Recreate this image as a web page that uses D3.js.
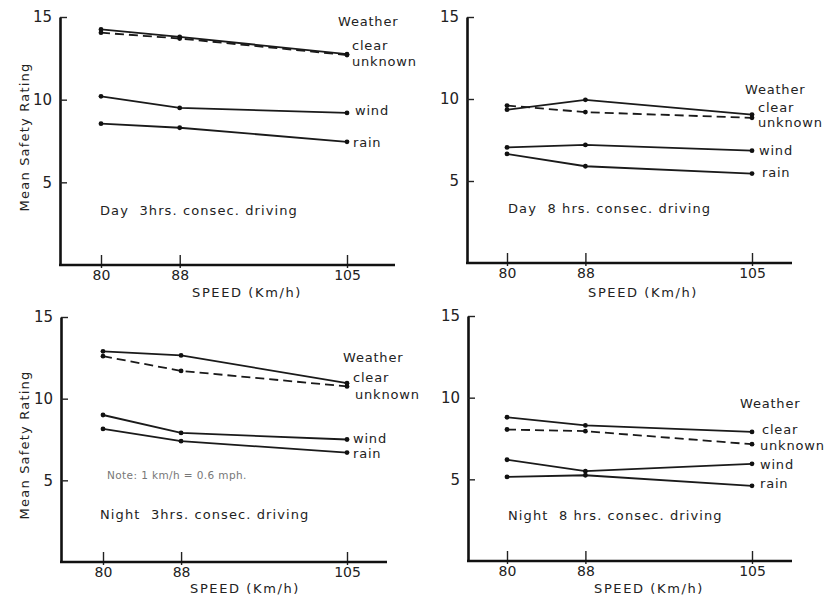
<!DOCTYPE html>
<meta charset="utf-8">
<script src="https://d3js.org/d3.v7.min.js"></script>
<style>
  body { margin: 0; background: #fff; }
  text { font-family: "DejaVu Sans", sans-serif; fill: #222; }
</style>
<div id="chart"></div>
<script>

// x values and y ticks
var speeds = [80, 88, 105];
var yTicks = [5, 10, 15];
var weather = ["clear", "unknown", "wind", "rain"];

// mean safety rating at 80 / 88 / 105 km/h, rows in weather order
var day3 = [
  [14.25, 13.8, 12.75],
  [14.05, 13.7, 12.7],
  [10.2, 9.5, 9.2],
  [8.55, 8.3, 7.45]
];
var day8 = [
  [9.35, 9.95, 9.05],
  [9.6, 9.2, 8.85],
  [7.05, 7.2, 6.85],
  [6.65, 5.9, 5.45]
];
var night3 = [
  [12.9, 12.65, 10.95],
  [12.6, 11.7, 10.75],
  [9.0, 7.9, 7.5],
  [8.15, 7.4, 6.7]
];
var night8 = [
  [8.8, 8.3, 7.9],
  [8.05, 7.95, 7.15],
  [6.2, 5.5, 5.95],
  [5.15, 5.25, 4.6]
];

var titles = ["Day  3hrs. consec. driving", "Day  8 hrs. consec. driving",
              "Night  3hrs. consec. driving", "Night  8 hrs. consec. driving"];

var svg = d3.select("#chart").append("svg")
  .attr("width", 825)
  .attr("height", 597);

// panel layout: axis corner, plot ranges, label spots
var panels = [
  { data: day3, title: titles[0], ax: 60, ax2: 395, yr: [265, 17], xr: [101, 347], lab: [247, 297], sub: [100, 215], ytitle: 137,
    leg: [[338, 26], [352, 50], [352, 66], [355, 115], [353, 147]] },
  { data: day8, title: titles[1], ax: 467, ax2: 792, yr: [263, 17], xr: [507, 752], lab: [643, 297], sub: [508, 213], ytitle: null,
    leg: [[745, 94], [758, 112], [758, 127], [759, 155], [762, 177]] },
  { data: night3, title: titles[2], ax: 61, ax2: 387, yr: [562, 317], xr: [103, 347], lab: [245, 593], sub: [100, 519], ytitle: 445,
    leg: [[343, 362], [353, 382], [355, 399], [353, 443], [353, 458]] },
  { data: night8, title: titles[3], ax: 468, ax2: 792, yr: [561, 316], xr: [507, 752], lab: [649, 593], sub: [508, 520], ytitle: null,
    leg: [[740, 408], [762, 434], [760, 450], [760, 469], [760, 488]] }
];

panels.forEach(function (p) {
  var x = d3.scaleLinear().domain([80, 105]).range(p.xr);
  var y = d3.scaleLinear().domain([0, 15]).range(p.yr);
  var g = svg.append("g");

  // y axis, ticks pointing inward
  var ya = g.append("g")
    .attr("transform", "translate(" + p.ax + ",0)")
    .call(d3.axisLeft(y).tickValues(yTicks).tickSizeInner(-7).tickSizeOuter(0).tickPadding(8));
  ya.select(".domain").attr("stroke", "#111").attr("stroke-width", 2.6);
  ya.selectAll(".tick line").attr("stroke", "#222").attr("stroke-width", 1.4);
  ya.selectAll(".tick text").style("font-size", "15px").attr("fill", "#222");

  // x axis
  var xa = g.append("g")
    .attr("transform", "translate(0," + p.yr[0] + ")")
    .call(d3.axisBottom(x).tickValues(speeds).tickSizeInner(-10).tickSizeOuter(0).tickPadding(5));
  xa.select(".domain").remove();
  xa.selectAll(".tick line").attr("y1", 3).attr("stroke", "#222").attr("stroke-width", 1.4);
  xa.selectAll(".tick text").style("font-size", "14px").attr("fill", "#222");
  g.append("line")
    .attr("x1", p.ax - 1).attr("x2", p.ax2)
    .attr("y1", p.yr[0]).attr("y2", p.yr[0])
    .attr("stroke", "#111").attr("stroke-width", 2.6);

  // series lines
  var line = d3.line()
    .x(function (d, i) { return x(speeds[i]); })
    .y(function (d) { return y(d); });

  p.data.forEach(function (vals, k) {
    g.append("path")
      .attr("d", line(vals))
      .attr("fill", "none")
      .attr("stroke", "#1a1a1a")
      .attr("stroke-width", 1.8)
      .attr("stroke-dasharray", weather[k] == "unknown" ? "9,5" : null);
    g.selectAll(null)
      .data(vals)
      .enter()
      .append("circle")
      .attr("cx", function (d, i) { return x(speeds[i]); })
      .attr("cy", function (d) { return y(d); })
      .attr("r", 2.4)
      .attr("fill", "#111");
  });

  // legend words
  var words = ["Weather"].concat(weather);
  words.forEach(function (w, i) {
    g.append("text")
      .attr("x", p.leg[i][0]).attr("y", p.leg[i][1])
      .style("font-size", "13px")
      .style("letter-spacing", "0.8px")
      .text(w);
  });

  g.append("text")
    .attr("x", p.sub[0]).attr("y", p.sub[1])
    .style("font-size", "13px")
    .style("white-space", "pre")
    .style("letter-spacing", "1.1px")
    .text(p.title);

  g.append("text")
    .attr("x", p.lab[0]).attr("y", p.lab[1])
    .attr("text-anchor", "middle")
    .style("font-size", "13px")
    .style("letter-spacing", "1.6px")
    .text("SPEED (Km/h)");

  if (p.ytitle) {
    g.append("text")
      .attr("transform", "translate(25," + p.ytitle + ") rotate(-90)")
      .attr("text-anchor", "middle")
      .attr("dominant-baseline", "middle")
      .style("font-size", "13px")
      .style("letter-spacing", "1.2px")
      .text("Mean Safety Rating");
  }
});

svg.append("text")
  .attr("x", 107).attr("y", 479)
  .style("font-size", "10.5px")
  .style("letter-spacing", "0.4px")
  .style("fill", "#777")
  .text("Note:  1 km/h = 0.6 mph.");

</script>
